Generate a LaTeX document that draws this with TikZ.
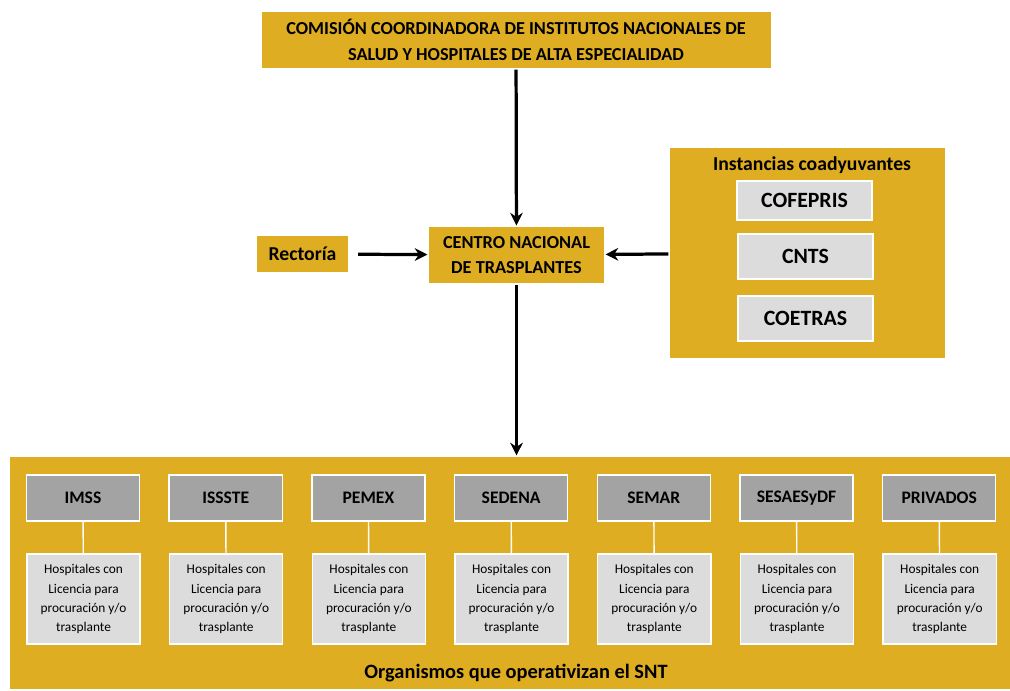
\documentclass[tikz,border=0pt]{standalone}
\usepackage{fontspec}
\setmainfont{Carlito}
\usetikzlibrary{arrows.meta}

\definecolor{oro}{HTML}{DFAD22}
\definecolor{grisosc}{HTML}{A3A3A3}
\definecolor{grisclaro}{HTML}{DCDCDC}

\begin{document}
\begin{tikzpicture}[x=0.025cm,y=-0.025cm,line width=.35pt,
  caja/.style={fill=oro,draw=white,line width=.8pt,inner sep=1pt,align=center,font=\bfseries},
  instancia/.style={fill=grisclaro,draw=white,line width=1pt,minimum width=3.375cm,font=\bfseries\fontsize{15.5}{17}\selectfont},
  organismo/.style={fill=grisosc,draw=white,line width=1pt,minimum width=2.825cm,minimum height=1.15cm,font=\bfseries\fontsize{12.5}{15}\selectfont},
  hospital/.style={fill=grisclaro,draw=white,line width=1pt,minimum width=2.825cm,minimum height=2.25cm,align=center,font=\fontsize{9.5}{13.6}\selectfont},
  flecha/.style={line width=2.3pt,-{Stealth[length=9pt,width=9pt]}},
  enlace/.style={draw=white,line width=1pt}]
\useasboundingbox (0,0) rectangle (1010,690);
\node[caja,minimum width=12.75cm,minimum height=1.45cm,font=\bfseries\fontsize{13}{18}\selectfont] (comision) at (516,40)
  {COMISIÓN COORDINADORA DE INSTITUTOS NACIONALES DE\\SALUD Y HOSPITALES DE ALTA ESPECIALIDAD};
\node[caja,minimum width=4.425cm,minimum height=1.45cm,font=\bfseries\fontsize{13}{18}\selectfont] (centro) at (516.5,255)
  {CENTRO NACIONAL\\DE TRASPLANTES};
\node[caja,minimum width=2.325cm,minimum height=.95cm,font=\bfseries\fontsize{14}{16}\selectfont] (rectoria) at (302.5,254) {Rectoría};
\node[caja,minimum width=6.925cm,minimum height=5.3cm] (instancias) at (807.5,253) {};
\node[font=\bfseries\fontsize{14}{16}\selectfont] (titinst) at (812,165) {Instancias coadyuvantes};
\node[instancia,minimum height=.975cm] (cofepris) at (804.5,200.5) {COFEPRIS};
\node[instancia,minimum height=1.125cm] (cnts) at (805.5,256.5) {CNTS};
\node[instancia,minimum height=1.125cm] (coetras) at (805.5,318.5) {COETRAS};
\node[caja,minimum width=25cm,minimum height=5.85cm] (organismos) at (510,573) {};
\node[font=\bfseries\fontsize{14.5}{16}\selectfont] (titorg) at (516,673) {Organismos que operativizan el SNT};
% instituciones y sus hospitales
\foreach \nom [count=\i from 0] in {IMSS,ISSSTE,PEMEX,SEDENA,SEMAR,SESAESyDF,PRIVADOS} {
  \node[organismo] (org\i) at ({83+142.7*\i},498) {\nom};
  \node[hospital] (hosp\i) at ({83.5+142.7*\i},599)
    {Hospitales con\\Licencia para\\procuración y/o\\trasplante};
  \draw[enlace] (org\i) -- (hosp\i);
}
\draw[flecha] (comision) -- (centro);
\draw[flecha,shorten <=6pt] (rectoria) -- (centro);
\draw[flecha] (instancias) -- (centro);
\draw[flecha] (centro.south) -- (centro.south |- organismos.north);
\end{tikzpicture}
\end{document}
